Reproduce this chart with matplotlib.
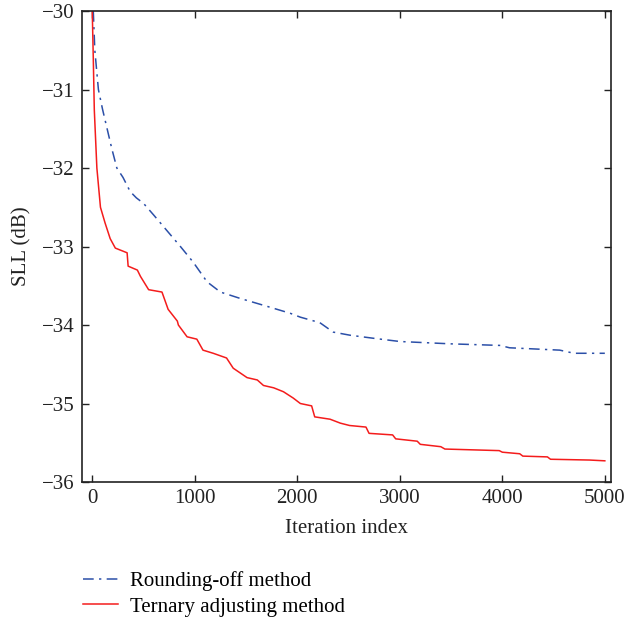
import matplotlib
matplotlib.use("Agg")
import matplotlib.pyplot as plt

plt.rcParams['font.family'] = ['Liberation Serif', 'DejaVu Serif']

# Rounding-off method (blue dash-dot)
round_iter = [10, 25, 60, 100, 145, 190, 240, 300, 370, 430, 500, 600, 730, 860, 985, 1120,
              1250, 1440, 1700, 1930, 2030, 2220, 2350, 2515, 2750, 3000, 3500, 3980, 4070,
              4560, 4700, 5000]
round_sll = [-30.0, -30.5, -31.0, -31.25, -31.5, -31.75, -32.0, -32.12, -32.3, -32.38, -32.45,
             -32.6, -32.8, -33.0, -33.2, -33.45, -33.58, -33.66, -33.76, -33.85, -33.9,
             -33.97, -34.09, -34.13, -34.17, -34.21, -34.24, -34.26, -34.29, -34.32, -34.36,
             -34.36]

# Ternary adjusting method (red)
tern_iter = [0, 10, 20, 45, 80, 125, 175, 225, 340, 350, 440, 470, 550, 680, 740, 830, 840,
             925, 1020, 1080, 1180, 1310, 1375, 1510, 1610, 1670, 1770, 1865, 1960, 2030, 2140,
             2170, 2320, 2420, 2510, 2670, 2700, 2930, 2960, 3170, 3200, 3400, 3440, 3970,
             4000, 4170, 4200, 4440, 4470, 4850, 5000]
tern_sll = [-30.0, -30.6, -31.26, -32.0, -32.5, -32.7, -32.9, -33.02, -33.08, -33.25, -33.3,
            -33.38, -33.55, -33.58, -33.8, -33.95, -34.0, -34.15, -34.18, -34.32, -34.36,
            -34.42, -34.55, -34.67, -34.7, -34.77, -34.8, -34.85, -34.93, -35.0, -35.03,
            -35.17, -35.2, -35.25, -35.28, -35.3, -35.38, -35.4, -35.45, -35.48, -35.52,
            -35.55, -35.58, -35.6, -35.62, -35.64, -35.67, -35.68, -35.71, -35.72, -35.73]

x_ticks = [0, 1000, 2000, 3000, 4000, 5000]
y_ticks = [-36, -35, -34, -33, -32, -31, -30]

fig = plt.figure(figsize=(6.26, 6.23), dpi=100)
ax = fig.add_axes([0.131, 0.2263, 0.845, 0.756])

l1, = ax.plot(round_iter, round_sll, color='#2b4fa8', lw=1.1, linestyle=(0, (7, 3.5, 1.5, 3.5)),
              label='Rounding-off method')
l2, = ax.plot(tern_iter, tern_sll, color='#f41c1c', lw=1.1,
              label='Ternary adjusting method')

ax.set_xlim(-100, 5060)
ax.set_ylim(-36, -30)
ax.set_xticks(x_ticks)
ax.set_yticks(y_ticks)
ax.set_yticklabels(['\u2212%d' % abs(v) for v in y_ticks])
ax.tick_params(direction='in', top=True, right=True, length=5, width=1.0,
               labelsize=15, pad=5, colors='#222222')
for s in ax.spines.values():
    s.set_linewidth(1.2)
    s.set_color('#222222')

ax.set_xlabel('Iteration index', fontsize=15, labelpad=8, color='#222222')
ax.set_ylabel('SLL (dB)', fontsize=15, labelpad=8, color='#222222')

fig.legend(handles=[l1, l2], loc='upper left', bbox_to_anchor=(0.12, 0.097),
           frameon=False, fontsize=15, handlelength=1.65, handletextpad=0.6,
           labelspacing=0.3, borderaxespad=0)

fig.savefig('out.png', dpi=100)
